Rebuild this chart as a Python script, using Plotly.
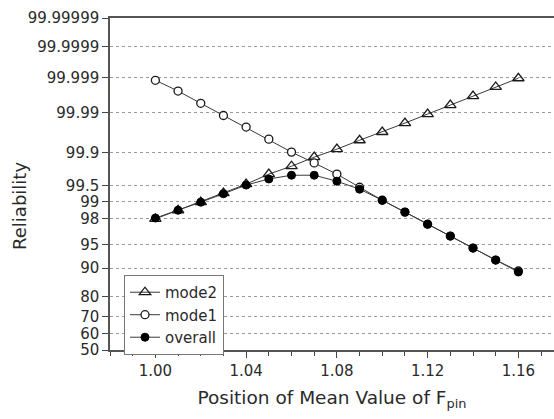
import plotly.graph_objects as go
from statistics import NormalDist

# ---- data (reliability in %) ----
position = [1.00, 1.01, 1.02, 1.03, 1.04, 1.05, 1.06, 1.07, 1.08,
            1.09, 1.10, 1.11, 1.12, 1.13, 1.14, 1.15, 1.16]
mode2 = [98.0, 98.57, 98.97, 99.30, 99.53, 99.706, 99.80, 99.874, 99.917,
         99.949, 99.968, 99.981, 99.989, 99.9937, 99.9965, 99.9981, 99.99896]
mode1 = [99.9988, 99.9975, 99.9944, 99.988, 99.976, 99.952, 99.903, 99.83, 99.706,
         99.46, 99.05, 98.46, 97.56, 96.28, 94.48, 92.05, 89.2]
overall = [98.06, 98.57, 98.97, 99.28, 99.51, 99.63, 99.69, 99.69, 99.59,
           99.41, 99.05, 98.46, 97.56, 96.28, 94.48, 92.05, 88.9]

tick_labels = ["50", "60", "70", "80", "90", "95", "98", "99", "99.5",
               "99.9", "99.99", "99.999", "99.9999", "99.99999"]

# ---- normal-probability scale ----
_nd = NormalDist()
def prob(p):
    return _nd.inv_cdf(p / 100.0)

tick_vals = [prob(float(t)) for t in tick_labels]

line_col = "#3a3a3a"
mk_col = "#1a1a1a"

fig = go.Figure()
fig.add_trace(go.Scatter(
    x=position, y=[prob(v) for v in mode2], name="mode2",
    mode="lines+markers",
    line=dict(color=line_col, width=1),
    marker=dict(symbol="triangle-up-open", size=10, color=mk_col,
                line=dict(width=1.3, color=mk_col))))
fig.add_trace(go.Scatter(
    x=position, y=[prob(v) for v in mode1], name="mode1",
    mode="lines+markers",
    line=dict(color=line_col, width=1),
    marker=dict(symbol="circle", size=8, color="white",
                line=dict(width=1.3, color=mk_col))))
fig.add_trace(go.Scatter(
    x=position, y=[prob(v) for v in overall], name="overall",
    mode="lines+markers",
    line=dict(color=line_col, width=1),
    marker=dict(symbol="circle", size=8, color="black",
                line=dict(width=1, color="black"))))

font_fam = "DejaVu Sans, Verdana, sans-serif"
text_col = "#2a2a2a"

fig.update_layout(
    width=554, height=419,
    margin=dict(l=110, r=0, t=18, b=69),
    paper_bgcolor="white", plot_bgcolor="white",
    font=dict(family=font_fam, color=text_col, size=15),
    showlegend=True,
    legend=dict(x=0.0315, y=0.226, xanchor="left", yanchor="top",
                bgcolor="white", bordercolor="#777", borderwidth=1,
                font=dict(size=15, color=text_col),
                tracegroupgap=0, itemwidth=30),
    xaxis=dict(
        range=[0.98, 1.1757], tick0=1.0, dtick=0.04, tickformat=".2f",
        ticks="outside", ticklen=6, tickwidth=1, tickcolor="#444",
        minor=dict(dtick=0.01, tick0=1.0, ticks="outside", ticklen=4,
                   tickcolor="#444", showgrid=False),
        showline=True, linecolor="#555", linewidth=1.5, mirror=True,
        showgrid=False, zeroline=False,
        title=dict(text="Position of Mean Value of F<sub>pin</sub>",
                   font=dict(size=18.5), standoff=12),
        tickfont=dict(size=15)),
    yaxis=dict(
        range=[0, prob(99.99999)],
        tickmode="array", tickvals=tick_vals, ticktext=tick_labels,
        ticks="outside", ticklen=6, tickwidth=1, tickcolor="#444",
        showline=True, linecolor="#555", linewidth=1.5,
        showgrid=True, gridcolor="#9a9a9a", griddash="dot", gridwidth=1,
        zeroline=False,
        tickfont=dict(size=15)),
    annotations=[dict(
        text="Reliability", textangle=-90, showarrow=False,
        xref="paper", yref="paper", x=-0.2027, y=0.434,
        xanchor="center", yanchor="middle",
        font=dict(size=18, color=text_col, family=font_fam))],
)

fig.write_html("out.html")
